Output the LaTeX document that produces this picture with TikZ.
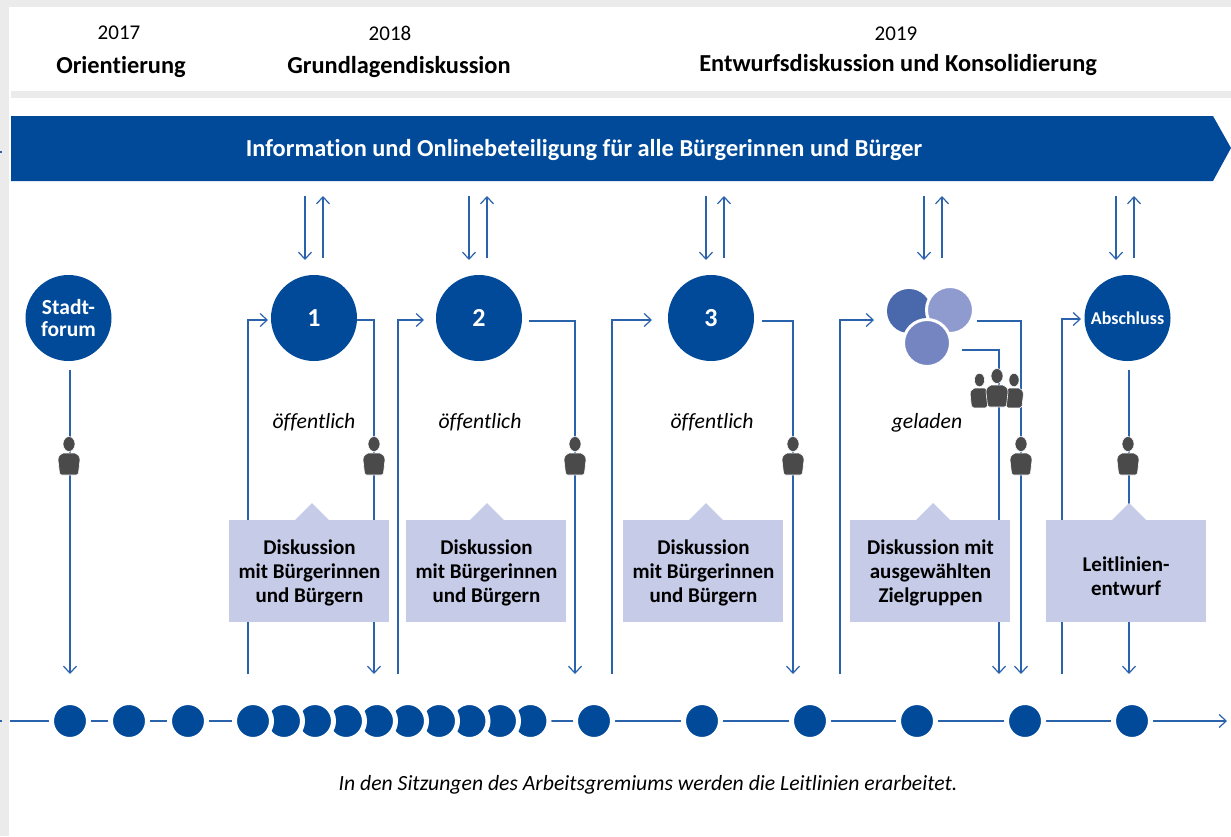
\documentclass[tikz,border=0pt]{standalone}
\usepackage{fontspec}
\setmainfont[RawFeature={-liga}]{Carlito}
\usetikzlibrary{arrows.meta}
\definecolor{bandblue}{HTML}{004A99}
\definecolor{lineblue}{HTML}{2A62AC}
\definecolor{boxlilac}{HTML}{C6CBE7}
\definecolor{persongrey}{HTML}{4A4A4A}
\definecolor{pagegrey}{HTML}{EBEBEB}
\definecolor{groupdark}{HTML}{4A69AD}
\definecolor{grouplight}{HTML}{8F9BCF}
\definecolor{groupmid}{HTML}{7585C1}
\begin{document}
\begin{tikzpicture}[x=1pt,y=1pt,
                        link/.style={draw=lineblue,line width=1.2pt},
                        linkarrow/.style={link,-{Straight Barb[length=7pt,width=13pt,line width=1.2pt]}},
                        stage/.style={circle,fill=bandblue,minimum size=86,inner sep=0,text=white,font=\fontsize{26}{30}\selectfont\bfseries,align=center},
                        sitting/.style={circle,fill=bandblue,draw=white,line width=5pt,minimum size=37,inner sep=0},
                        box/.style={fill=boxlilac,minimum width=159.5,minimum height=102,inner sep=0},
                        boxtext/.style={align=center,font=\fontsize{21}{24}\selectfont\bfseries},
                        year/.style={font=\fontsize{21}{24}\selectfont},
                        phase/.style={font=\fontsize{24.4}{28}\selectfont\bfseries},
                        access/.style={font=\fontsize{21.7}{24}\selectfont\itshape},
                        person/.pic={
                            \filldraw[fill=persongrey,draw=white,line width=.6pt] (0,0) ellipse (6 and 7.5);
                            \filldraw[fill=persongrey,draw=white,line width=.6pt] (-6,-9) -- (6,-9) .. controls (9,-10) and (11,-12) .. (11,-16) -- (9.5,-29) .. controls (9.3,-30.5) and (8,-31) .. (7,-31) -- (-7,-31) .. controls (-8,-31) and (-9.3,-30.5) .. (-9.5,-29) -- (-11,-16) .. controls (-11,-12) and (-9,-10) .. (-6,-9) -- cycle;
                        }]
                        \useasboundingbox (0,0) rectangle (1231,-836);
                        %Hintergrund
                        \fill[pagegrey] (0,0) rectangle (1231,-836);
                        \fill[white] (9,-7) rectangle (1231,-836);
                        \fill[pagegrey] (11,-91) rectangle (1231,-98);
                        \fill[bandblue] (11,-116) -- (1213,-116) -- (1231,-148) -- (1213,-181) -- (11,-181) -- cycle;
                        \fill[lineblue] (0,-150.5) rectangle (1.5,-152.5);
                        \fill[lineblue] (0,-720) rectangle (1.5,-722);
                        %Kopfzeile
                        \node[year] (y17) at (119,-33) {2017};
                        \node[year] (y18) at (390,-33) {2018};
                        \node[year] (y19) at (896,-34) {2019};
                        \node[phase] (p17) at (121,-67) {Orientierung};
                        \node[phase] (p18) at (399,-67) {Grundlagendiskussion};
                        \node[phase] (p19) at (898,-65) {Entwurfsdiskussion und Konsolidierung};
                        \node[phase,text=white] (band) at (584,-150) {Information und Onlinebeteiligung für alle Bürgerinnen und Bürger};
                        %Kreise
                        \node[stage,font=\fontsize{21.5}{22}\selectfont\bfseries] (forum) at (68.5,-318) {Stadt-\\forum};
                        \node[stage] (c1) at (314,-318) {1};
                        \node[stage] (c2) at (479,-318) {2};
                        \node[stage] (c3) at (711,-318) {3};
                        \node[stage,font=\fontsize{18}{20}\selectfont\bfseries] (end) at (1127.5,-318) {Abschluss};
                        %Gruppe aus drei Kreisen
                        \node[circle,fill=groupdark,minimum size=44,inner sep=0] (g1) at (909,-311) {};
                        \node[circle,fill=grouplight,draw=white,line width=3pt,minimum size=47,inner sep=0] (g2) at (950,-310) {};
                        \node[circle,fill=groupmid,draw=white,line width=3pt,minimum size=47,inner sep=0] (g3) at (927,-343) {};
                        %Pfeile zum Band
                        \foreach \x/\name in {305/a,469/b,706/c,924/d,1116/e} {
                            \coordinate (\name top) at (\x,-196);
                            \coordinate (\name low) at (\x,-260);
                            \coordinate (\name uptop) at (\x+18,-196);
                            \coordinate (\name uplow) at (\x+18,-258);
                            \draw[linkarrow] (\name top) -- (\name low);
                            \draw[linkarrow] (\name uplow) -- (\name uptop);
                        }
                        %Verbindungen nach unten
                        \coordinate (f0) at (70,-370);
                        \coordinate (f1) at (70,-674);
                        \draw[linkarrow] (f0) -- (f1);
                        \coordinate (i1) at (248,-674);
                        \coordinate (j1) at (268,-320);
                        \draw[linkarrow] (i1) |- (j1);
                        \coordinate (o1) at (357,-320);
                        \coordinate (q1) at (374,-674);
                        \draw[linkarrow] (o1) -| (q1);
                        \coordinate (i2) at (398,-674);
                        \coordinate (j2) at (424,-320);
                        \draw[linkarrow] (i2) |- (j2);
                        \coordinate (o2) at (529,-321);
                        \coordinate (q2) at (575,-674);
                        \draw[linkarrow] (o2) -| (q2);
                        \coordinate (i3) at (612,-674);
                        \coordinate (j3) at (652,-320);
                        \draw[linkarrow] (i3) |- (j3);
                        \coordinate (o3) at (762,-321);
                        \coordinate (q3) at (793,-674);
                        \draw[linkarrow] (o3) -| (q3);
                        \coordinate (i4) at (840,-674);
                        \coordinate (j4) at (874,-320);
                        \draw[linkarrow] (i4) |- (j4);
                        \coordinate (o4) at (977,-321);
                        \coordinate (q4) at (1021,-674);
                        \draw[linkarrow] (o4) -| (q4);
                        \coordinate (o5) at (962,-350);
                        \coordinate (q5) at (999,-674);
                        \draw[linkarrow] (o5) -| (q5);
                        \coordinate (i6) at (1062,-674);
                        \coordinate (j6) at (1081,-319);
                        \draw[linkarrow] (i6) |- (j6);
                        \coordinate (o6) at (1129,-370);
                        \coordinate (q6) at (1129,-674);
                        \draw[linkarrow] (o6) -- (q6);
                        %Personen
                        \foreach \x in {69,374,575,793,1021,1128}
                        \pic at (\x,-444) {person};
                        \pic[xscale=.85,yscale=.9] at (979.5,-380) {person};
                        \pic[xscale=.85,yscale=.9] at (1014,-380) {person};
                        \pic at (997,-376) {person};
                        %Zugang
                        \node[access] (a1) at (314,-422) {öffentlich};
                        \node[access] (a2) at (480,-422) {öffentlich};
                        \node[access] (a3) at (712,-422) {öffentlich};
                        \node[access] (a4) at (927,-423) {geladen};
                        %Kaesten
                        \node[box] (b1) at (309.2,-571) {};
                        \node[box] (b2) at (486.2,-571) {};
                        \node[box] (b3) at (703.2,-571) {};
                        \node[box] (b4) at (930.2,-571) {};
                        \node[box] (b5) at (1126.2,-571) {};
                        \foreach \x in {312,487,706,933,1129}
                        \fill[boxlilac] (\x-18,-521) -- (\x,-503) -- (\x+18,-521) -- cycle;
                        \node[boxtext] (t1) at (309.5,-573) {Diskussion\\mit Bürgerinnen\\und Bürgern};
                        \node[boxtext] (t2) at (486.5,-573) {Diskussion\\mit Bürgerinnen\\und Bürgern};
                        \node[boxtext] (t3) at (703.5,-573) {Diskussion\\mit Bürgerinnen\\und Bürgern};
                        \node[boxtext] (t4) at (930.5,-573) {Diskussion mit\\ausgewählten\\Zielgruppen};
                        \node[boxtext] (t5) at (1126,-576) {Leitlinien-\\entwurf};
                        %Zeitachse
                        \coordinate (axis0) at (10,-721);
                        \coordinate (axis1) at (1227,-721);
                        \draw[linkarrow] (axis0) -- (axis1);
                        \foreach \x in {1132,1025,917,810,702,594,530.5,500,469.5,439,408,377,346,315,284,253,188,129,70}
                        \node[sitting] (s\x) at (\x,-721) {};
                        %Fusszeile
                        \node[access] (foot) at (648,-785) {In den Sitzungen des Arbeitsgremiums werden die Leitlinien erarbeitet.};
                \end{tikzpicture}
\end{document}
